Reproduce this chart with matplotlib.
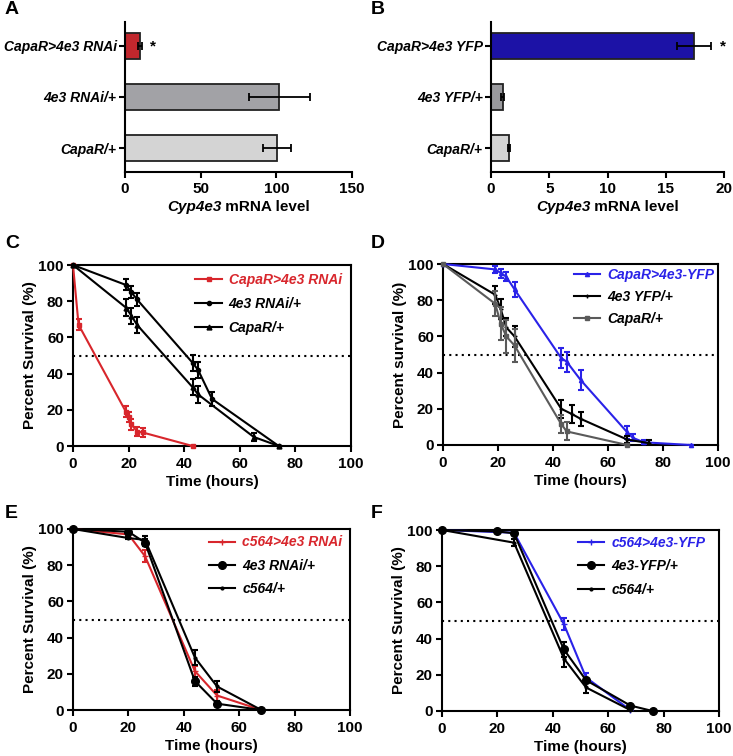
import matplotlib
matplotlib.use("Agg")
import matplotlib.pyplot as plt

plt.rcParams['font.family'] = ['Liberation Sans', 'DejaVu Sans']
plt.rcParams['font.weight'] = 'bold'
plt.rcParams['axes.labelweight'] = 'bold'

RED = '#d8262c'
BLUE = '#2a22e8'
GRAY = '#5a5a5a'

# ---- panel A / B : qPCR bars ----
a_labels = ['CapaR>4e3 RNAi', '4e3 RNAi/+', 'CapaR/+']
a_vals = [10, 102, 100.5]
a_err = [1.2, 20, 9.5]
a_colors = ['#c1272d', '#a2a2a6', '#d4d4d4']

b_labels = ['CapaR>4e3 YFP', '4e3 YFP/+', 'CapaR/+']
b_vals = [17.4, 1.0, 1.55]
b_err = [1.45, 0.12, 0.12]
b_colors = ['#1c12a6', '#9a9a9e', '#d4d4d4']

# ---- panel C ----
c_red_x = [0, 2, 19, 20, 21, 23, 25, 43]
c_red_y = [100, 67, 19, 16, 12, 8, 7.5, 0]
c_red_e = [0, 3, 3, 3, 3, 2.5, 2.5, 0]
c_rnai_x = [0, 19, 21, 23, 43, 45, 50, 74]
c_rnai_y = [100, 89, 85, 81, 46, 42, 26, 0]
c_rnai_e = [0, 3, 3.5, 3.5, 4.5, 4.5, 4, 0]
c_capa_x = [0, 19, 21, 23, 43, 45, 65, 74]
c_capa_y = [100, 76.5, 72, 67, 32.5, 28.5, 5, 0]
c_capa_e = [0, 4.5, 4.5, 4.5, 4.5, 4.5, 2, 0]

# ---- panel D ----
d_blue_x = [0, 19, 21, 23, 26, 43, 45, 50, 67, 69, 73, 90]
d_blue_y = [100, 97, 95, 93, 86, 48, 46, 36, 7, 4, 1.5, 0]
d_blue_e = [0, 2, 2.5, 2.5, 4, 5.5, 5.5, 5.5, 3.5, 2, 1, 0]
d_yfp_x = [0, 19, 21, 23, 26, 43, 47, 50, 67, 75]
d_yfp_y = [100, 83, 75, 65, 60, 20, 17, 14.5, 3, 1]
d_yfp_e = [0, 5, 5.5, 5, 6, 5, 5, 4, 2, 1.5]
d_capa_x = [0, 19, 21, 23, 26, 43, 45, 67]
d_capa_y = [100, 78, 67, 60, 55, 11.5, 7.5, 0]
d_capa_e = [0, 7, 9, 9, 9, 5, 5, 0]

# ---- panel E ----
e_red_x = [0, 20, 26, 44, 52, 68]
e_red_y = [100, 97, 85, 21.5, 8, 0]
e_red_e = [0, 1, 3.5, 3, 3, 0]
e_rnai_x = [0, 20, 26, 44, 52, 68]
e_rnai_y = [100, 98.5, 92.5, 16, 3.5, 0]
e_rnai_e = [0, 0.7, 2, 2.5, 1.2, 0]
e_c564_x = [0, 20, 26, 44, 52, 68]
e_c564_y = [100, 95, 94, 29, 13, 0]
e_c564_e = [0, 0.5, 2, 4, 3, 0]

# ---- panel F ----
f_blue_x = [0, 26, 44, 52, 68]
f_blue_y = [100, 98.5, 48, 18.5, 0.5]
f_blue_e = [0, 1, 3.5, 2.5, 0.5]
f_yfp_x = [0, 20, 26, 44, 52, 68, 76]
f_yfp_y = [100, 99.2, 98.2, 34, 17, 3, 0]
f_yfp_e = [0, 0.5, 1, 4, 1.5, 1, 0]
f_c564_x = [0, 26, 44, 52, 68]
f_c564_y = [100, 93, 29, 13, 0.5]
f_c564_e = [0, 2, 4.5, 3, 0.5]


def px_axes(fig, left, top, right, bottom):
    W, H = 733, 756
    return fig.add_axes([left / W, 1 - bottom / H, (right - left) / W, (bottom - top) / H])


def bar_panel(ax, labels, vals, errs, colors, xmax, step, star_x):
    y = list(range(len(labels)))
    ax.barh(y, vals, height=0.5, color=colors, edgecolor='#222222', linewidth=1.3)
    ax.errorbar(vals, y, xerr=errs, fmt='none', ecolor='black', elinewidth=1.3,
                capsize=3, capthick=1.3)
    ax.set_yticks(y)
    ax.set_yticklabels(labels, style='italic', fontsize=10)
    ax.set_ylim(2.47, -0.47)
    ax.set_xlim(0, xmax)
    ax.set_xticks(range(0, xmax + 1, step))
    ax.spines[['top', 'right']].set_visible(False)
    for s in ['left', 'bottom']:
        ax.spines[s].set_linewidth(1.5)
    ax.tick_params(width=1.5, length=4, labelsize=11)
    ax.tick_params(axis='y', labelsize=10, pad=2)
    ax.text(star_x, 0, '*', ha='center', va='center', fontsize=11)
    # x label: italic gene name + plain bold text, centred under the axis
    ax.annotate('Cyp4e3', xy=(0.5, 0), xycoords='axes fraction', xytext=(-12.5, -25),
                textcoords='offset points', ha='right', va='center',
                fontsize=11, style='italic')
    ax.annotate(' mRNA level', xy=(0.5, 0), xycoords='axes fraction', xytext=(-12.5, -25),
                textcoords='offset points', ha='left', va='center', fontsize=11)


def surv_panel(ax, series, ylabel, anchor, spacing):
    handles = []
    for x, y, e, color, marker, ms, label in series:
        ln, = ax.plot(x, y, color=color, marker=marker, ms=ms, lw=1.5, label=label,
                      clip_on=False, zorder=3)
        ax.errorbar(x, y, yerr=e, fmt='none', ecolor=color, elinewidth=1.5,
                    capsize=2.5, capthick=1.5, zorder=3)
        handles.append(ln)
    ax.plot([0, 100], [50, 50], color='black', lw=1.5, ls=(0, (1, 2)))
    ax.set_xlim(0, 100)
    ax.set_ylim(0, 100)
    ax.set_xticks(range(0, 101, 20))
    ax.set_yticks(range(0, 101, 20))
    for s in ax.spines.values():
        s.set_linewidth(1.5)
    ax.tick_params(width=1.5, length=4, labelsize=11)
    ax.tick_params(axis='x', pad=4)
    ax.tick_params(axis='y', pad=2.5)
    ax.set_xlabel('Time (hours)', fontsize=11, labelpad=3)
    ax.set_ylabel(ylabel, fontsize=11, labelpad=1)
    cols = [series[0][3], 'black', 'black']
    leg = ax.legend(handles=handles, loc='upper left', bbox_to_anchor=anchor,
                    frameon=False, borderaxespad=0, handlelength=1.9,
                    handletextpad=0.5, labelspacing=spacing,
                    prop={'size': 10, 'style': 'italic', 'weight': 'bold'},
                    labelcolor=cols)
    return leg


fig = plt.figure(figsize=(7.33, 7.56), dpi=100)

axA = px_axes(fig, 125, 22, 352, 172)
bar_panel(axA, a_labels, a_vals, a_err, a_colors, 150, 50, 18.5)
axB = px_axes(fig, 491, 22, 724, 172)
bar_panel(axB, b_labels, b_vals, b_err, b_colors, 20, 5, 19.9)

axC = px_axes(fig, 73, 265, 351, 446)
surv_panel(axC, [
    (c_red_x, c_red_y, c_red_e, RED, 's', 3.5, 'CapaR>4e3 RNAi'),
    (c_rnai_x, c_rnai_y, c_rnai_e, 'black', 'o', 3, '4e3 RNAi/+'),
    (c_capa_x, c_capa_y, c_capa_e, 'black', '^', 3.5, 'CapaR/+'),
], 'Percent Survival (%)', (0.42, 0.985), 0.72)

axD = px_axes(fig, 443, 264, 718, 445)
surv_panel(axD, [
    (d_blue_x, d_blue_y, d_blue_e, BLUE, '^', 3, 'CapaR>4e3-YFP'),
    (d_yfp_x, d_yfp_y, d_yfp_e, 'black', '+', 3.5, '4e3 YFP/+'),
    (d_capa_x, d_capa_y, d_capa_e, GRAY, 's', 3.5, 'CapaR/+'),
], 'Percent survival (%)', (0.455, 1.01), 0.58)

axE = px_axes(fig, 73, 529, 350, 710)
surv_panel(axE, [
    (e_red_x, e_red_y, e_red_e, RED, '+', 4, 'c564>4e3 RNAi'),
    (e_rnai_x, e_rnai_y, e_rnai_e, 'black', 'o', 5.5, '4e3 RNAi/+'),
    (e_c564_x, e_c564_y, e_c564_e, 'black', '.', 4, 'c564/+'),
], 'Percent Survival (%)', (0.47, 0.995), 0.66)

axF = px_axes(fig, 442, 530, 719, 711)
surv_panel(axF, [
    (f_blue_x, f_blue_y, f_blue_e, BLUE, '+', 4, 'c564>4e3-YFP'),
    (f_yfp_x, f_yfp_y, f_yfp_e, 'black', 'o', 5.5, '4e3-YFP/+'),
    (f_c564_x, f_c564_y, f_c564_e, 'black', '.', 4, 'c564/+'),
], 'Percent Survival (%)', (0.47, 1.0), 0.7)

for letter, x, y in [('A', 5, 10), ('B', 371, 10), ('C', 5, 244),
                     ('D', 371, 244), ('E', 5, 513), ('F', 371, 513)]:
    fig.text(x / 733, 1 - y / 756, letter, fontsize=14, fontweight='bold',
             ha='left', va='center')

fig.savefig('out.png', dpi=100)
